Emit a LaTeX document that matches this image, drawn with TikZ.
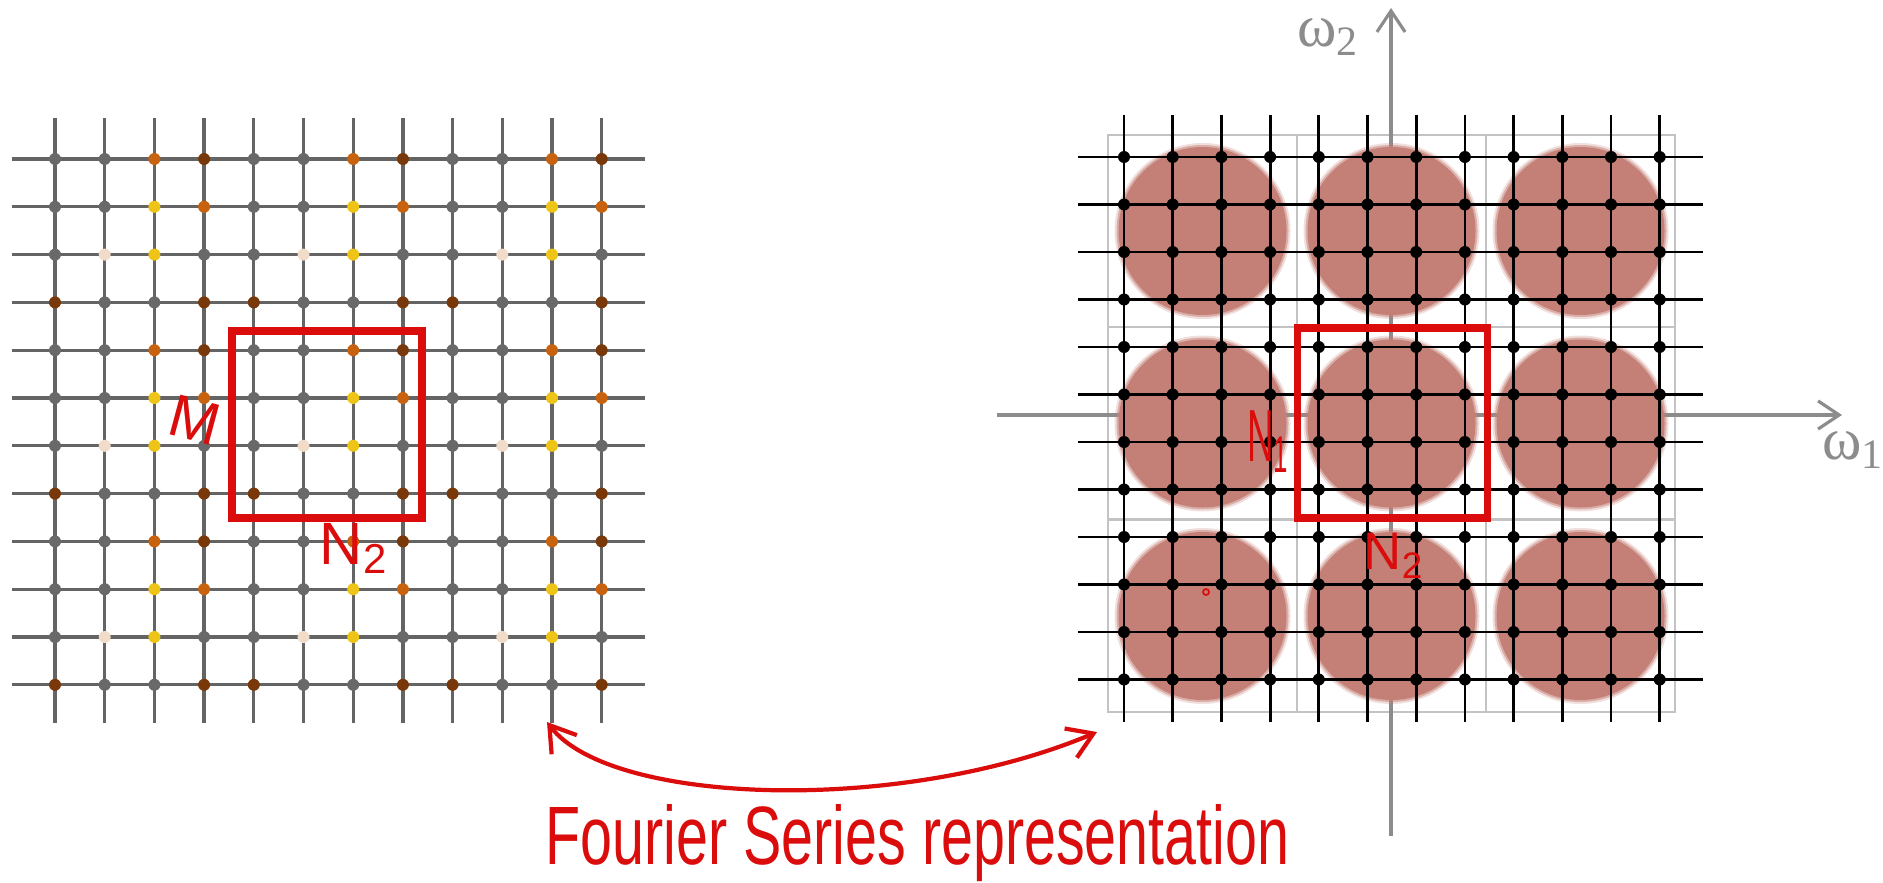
\documentclass[tikz,border=0pt]{standalone}
\usepackage{fontspec}
\setmainfont{Liberation Sans}
\newfontfamily\omegafont{Liberation Serif}
\usetikzlibrary{arrows.meta}

\definecolor{dotgrey}{RGB}{105,105,105}
\definecolor{dotorange}{RGB}{200,98,14}
\definecolor{dotbrown}{RGB}{120,56,10}
\definecolor{dotyellow}{RGB}{238,196,22}
\definecolor{dotpeach}{RGB}{240,220,200}
\definecolor{gridgrey}{RGB}{100,100,100}
\definecolor{tilegrey}{RGB}{195,195,195}
\definecolor{axisgrey}{RGB}{140,140,140}
\definecolor{diskred}{RGB}{196,128,118}
\definecolor{penred}{RGB}{218,12,12}

\begin{document}
\begin{tikzpicture}[x=0.01cm, y=-0.01cm,
	gridline/.style={line width=0.95pt, gridgrey},
	freqline/.style={line width=0.8pt, black},
	tile/.style={line width=0.5pt, tilegrey},
	window/.style={line width=2pt, penred},
	axis/.style={line width=0.9pt, axisgrey, -{Straight Barb[length=6pt,width=8pt]}},
	pen/.style={penred, inner sep=1pt, font=\fontsize{17}{20}\selectfont},
	omega/.style={axisgrey, font=\omegafont\fontsize{17}{20}\selectfont}]
	
	\useasboundingbox (0,0) rectangle (1883,882);
	
	% Spatial lattice: grey lines
	\foreach \i in {0,...,11} {
		\draw[gridline] ({55+49.7*\i},118) -- ({55+49.7*\i},723);
		\draw[gridline] (12,{159+47.8*\i}) -- (645,{159+47.8*\i});
	}
	
	% Spatial samples, colours repeat with period 4 x 4
	\foreach \r in {0,...,11} {
		\foreach \c in {0,...,11} {
			\pgfmathtruncatemacro{\k}{4*mod(\r,4)+mod(\c,4)}
			\pgfmathparse{{"dotgrey","dotgrey","dotorange","dotbrown","dotgrey","dotgrey","dotyellow","dotorange","dotgrey","dotpeach","dotyellow","dotgrey","dotbrown","dotgrey","dotgrey","dotbrown"}[\k]}
			\edef\smpcol{\pgfmathresult}
			\fill[\smpcol] ({55+49.7*\c},{159+47.8*\r}) circle (6);
		}
	}
	
	% One period of the spatial signal
	\draw[window] (232,331) rectangle (422,518);
	\node[pen, rotate=-15] (lM) at (195,420) {M};
	\node[pen] (lN2) at (354,548) {N\textsubscript{2}};
	
	% Frequency tiles
	\foreach \x in {1108,1297,1486} {
		\foreach \y in {135,327,520} {
			\draw[tile] (\x,\y) rectangle ++(189,192);
		}
	}
	
	% Frequency axes
	\coordinate (w1start) at (997,415);
	\coordinate (w1end) at (1842,415);
	\coordinate (w2start) at (1391,836);
	\coordinate (w2end) at (1391,8);
	\draw[axis] (w1start) -- (w1end);
	\draw[axis] (w2start) -- (w2end);
	\node[omega] (w1) at (1853,450) {ω\textsubscript{1}};
	\node[omega] (w2) at (1328,37) {ω\textsubscript{2}};
	
	% Spectrum copies, soft edge
	\foreach \x in {1202.5,1391.5,1580.5} {
		\foreach \y in {231,423.5,616} {
			\fill[diskred, opacity=0.25] (\x,\y) circle (88);
			\fill[diskred, opacity=0.5] (\x,\y) circle (86);
			\fill[diskred] (\x,\y) circle (84);
		}
	}
	
	% Frequency lattice: black lines and samples
	\foreach \i in {0,...,11} {
		\draw[freqline] ({1124+48.7*\i},115) -- ({1124+48.7*\i},722);
		\draw[freqline] (1078,{157+47.5*\i}) -- (1703,{157+47.5*\i});
	}
	\foreach \r in {0,...,11} {
		\foreach \c in {0,...,11} {
			\fill ({1124+48.7*\c},{157+47.5*\r}) circle (6);
		}
	}
	
	% One period of the spectrum
	\draw[window] (1297,328) rectangle (1487,518);
	\node[pen, font=\fontsize{21}{24}\selectfont] (rN1) at (1268,442) {\scalebox{0.5}[1]{N\textsubscript{1}}};
	\node[pen, font=\fontsize{15}{18}\selectfont] (rN2) at (1394,556) {N\textsubscript{2}};
	\draw[penred, line width=0.5pt] (1206,592) circle (3);
	
	% Curved double arrow between the two lattices
	\coordinate (tspace) at (547,722);
	\coordinate (fspace) at (1097,732);
	\draw[penred, line width=1.2pt, {Straight Barb[length=7pt,width=9pt]}-{Straight Barb[length=7pt,width=9pt]}]
		(tspace) .. controls (610,805) and (900,815) .. (fspace);
	
	% Caption
	\node[penred, anchor=base west, inner sep=0pt] (caption) at (545,864)
		{\resizebox{7.43cm}{0.6cm}{Fourier Series representation}};
	
\end{tikzpicture}
\end{document}
